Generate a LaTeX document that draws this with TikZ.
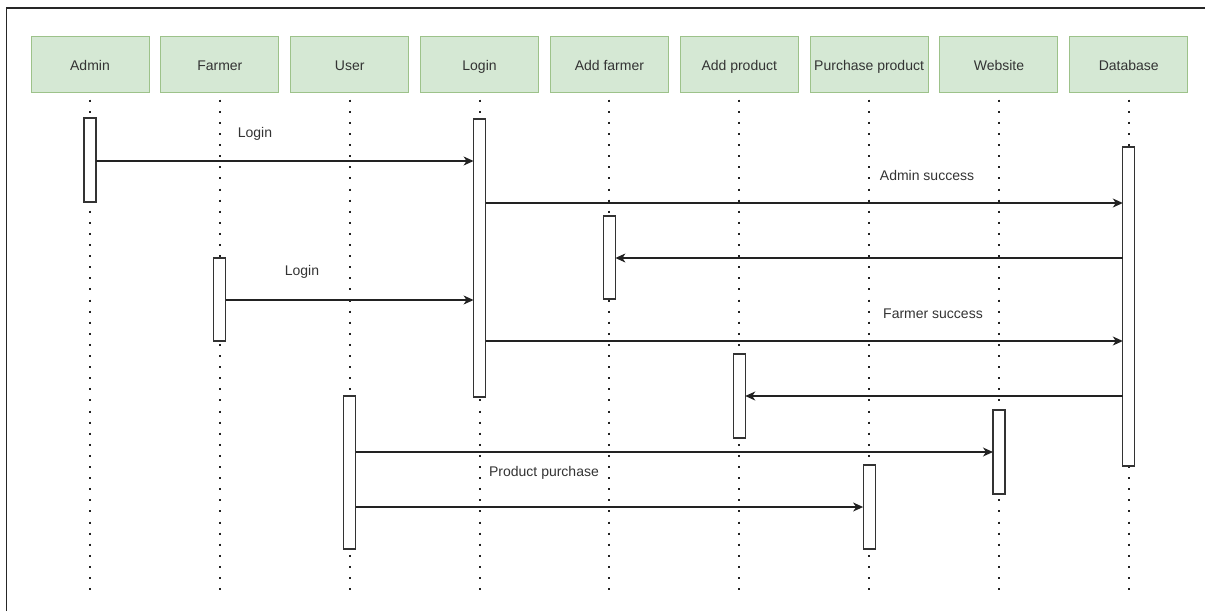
\documentclass[tikz,border=0pt]{standalone}
\usepackage{fontspec}
\setmainfont{Liberation Sans}
\usetikzlibrary{arrows.meta}

\definecolor{actorfill}{HTML}{D5E8D4}
\definecolor{actorline}{HTML}{9DC28A}
\definecolor{ink}{HTML}{333333}
\definecolor{wire}{HTML}{222222}

\tikzset{
  actor/.style={draw=actorline, fill=actorfill, line width=1pt,
    minimum width=118pt, minimum height=56pt, inner sep=0pt, outer sep=0pt,
    text height=13.4pt, text depth=0pt,
    text=ink, font=\fontsize{14pt}{16pt}\selectfont},
  lifeline/.style={draw=wire, line width=2pt, dash pattern=on 2pt off 9.1pt},
  actbar/.style={draw=ink, fill=white, line width=1.1pt,
    minimum width=12pt, inner sep=0pt, outer sep=0pt},
  msg/.style={draw=wire, line width=1.1pt,
    -{Stealth[length=10pt, width=9pt, inset=3pt]}},
  msglabel/.style={text=ink, font=\fontsize{14pt}{16pt}\selectfont, inner sep=0pt}
}

\begin{document}
\begin{tikzpicture}[x=1pt, y=-1pt]
\useasboundingbox (0,0) rectangle (1205,611);

% frame
\draw[line width=1.3pt, black!85] (6.5,611) -- (6.5,8) -- (1205,8);

% participants
\foreach \i/\name/\txt in {0/admin/Admin, 1/farmer/Farmer, 2/user/User,
    3/login/Login, 4/addfarmer/Add farmer, 5/addproduct/Add product,
    6/purchase/Purchase product, 7/website/Website, 8/database/Database}{
  \node[actor] (\name) at ({90+129.85*\i},64) {\txt};
  \draw[lifeline] ({90+129.85*\i},99.7) -- ({90+129.85*\i},591);
}

% activation bars
\node[actbar, minimum height=84pt]  (admbar)  at (admin |- 0,160)      {};
\node[actbar, minimum height=278pt] (logbar)  at (login |- 0,258)      {};
\node[actbar, minimum height=319pt] (dbbar)   at (database |- 0,306.5) {};
\node[actbar, minimum height=83pt]  (afbar)   at (addfarmer |- 0,257.5){};
\node[actbar, minimum height=83pt]  (farbar)  at (farmer |- 0,299.5)   {};
\node[actbar, minimum height=84pt]  (apbar)   at (addproduct |- 0,396) {};
\node[actbar, minimum height=153pt] (usrbar)  at (user |- 0,472.5)     {};
\node[actbar, minimum height=84pt]  (webbar)  at (website |- 0,452)    {};
\node[actbar, minimum height=84pt]  (purbar)  at (purchase |- 0,507)   {};

% messages
\draw[msg] (admbar.east |- 0,161) -- (logbar.west |- 0,161);
\node[msglabel] (lbl1) at (255,134) {Login};

\draw[msg] (logbar.east |- 0,203) -- (dbbar.west |- 0,203);
\node[msglabel] (lbl2) at (927,175) {Admin success};

\draw[msg] (dbbar.west |- 0,258) -- (afbar.east |- 0,258);

\draw[msg] (farbar.east |- 0,300) -- (logbar.west |- 0,300);
\node[msglabel] (lbl3) at (302,272) {Login};

\draw[msg] (logbar.east |- 0,341) -- (dbbar.west |- 0,341);
\node[msglabel] (lbl4) at (933,314) {Farmer success};

\draw[msg] (dbbar.west |- 0,396) -- (apbar.east |- 0,396);

\draw[msg] (usrbar.east |- 0,452) -- (webbar.west |- 0,452);

\draw[msg] (usrbar.east |- 0,507) -- (purbar.west |- 0,507);
\node[msglabel] (lbl5) at (544,473) {Product purchase};
\end{tikzpicture}
\end{document}
